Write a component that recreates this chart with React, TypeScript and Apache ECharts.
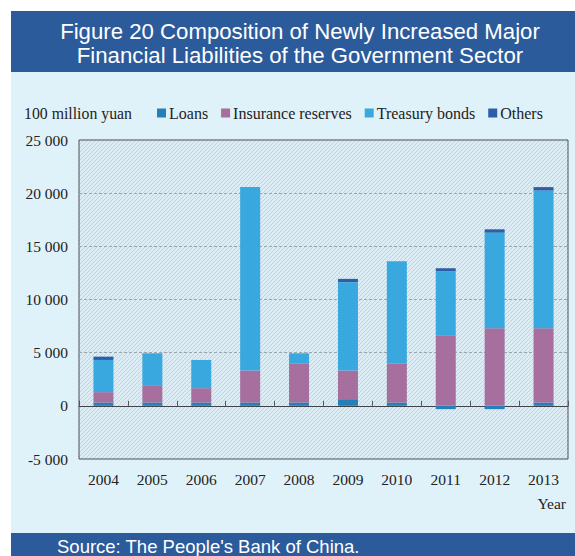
import React, { useEffect, useRef } from "react";
import * as echarts from "echarts";

const years = ["2004", "2005", "2006", "2007", "2008", "2009", "2010", "2011", "2012", "2013"];
const loans = [310, 310, 310, 310, 310, 625, 310, -310, -310, 310];
const insurance = [975, 1630, 1350, 3005, 3690, 2690, 3690, 6630, 7285, 6975];
const treasury = [3030, 3000, 2655, 17255, 940, 8315, 9600, 6030, 9005, 12965];
const others = [310, 0, 0, 0, 0, 310, 0, 280, 310, 320];
const seriesNames = ["Loans", "Insurance reserves", "Treasury bonds", "Others"];
const colors = ["#2580b8", "#a66f9e", "#38a8de", "#2d5ea9"];

const SERIF = "'Liberation Serif', 'Times New Roman', serif";
const SANS = "'Liberation Sans', Arial, sans-serif";

const fmt = (v: number) => {
  const s = String(Math.abs(v)).replace(/\B(?=(\d{3})+(?!\d))/g, " ");
  return v < 0 ? "-" + s : s;
};

const hatchSvg =
  "data:image/svg+xml;charset=utf-8," +
  encodeURIComponent(
    "<svg xmlns='http://www.w3.org/2000/svg' width='4' height='4'>" +
      "<rect width='4' height='4' fill='#dcedf5'/>" +
      "<path d='M-1,1 L1,-1 M0,4 L4,0 M3,5 L5,3' stroke='#b8cdd7' stroke-width='0.8'/>" +
      "</svg>"
  );

export default function App() {
  const ref = useRef<HTMLDivElement>(null);
  useEffect(() => {
    if (!ref.current) return;
    const chart = echarts.init(ref.current, null, { renderer: "svg" });
    const data = [loans, insurance, treasury, others];
    chart.setOption({
      animation: false,
      backgroundColor: "#ffffff",
      graphic: [
        { type: "rect", z: -10, shape: { x: 11, y: 11, width: 564, height: 61 }, style: { fill: "#2c5b9c" } },
        { type: "rect", z: -10, shape: { x: 11, y: 72, width: 564, height: 461 }, style: { fill: "#e0f2f9" } },
        { type: "rect", z: -10, shape: { x: 11, y: 533, width: 564, height: 23 }, style: { fill: "#2c5b9c" } },
        {
          type: "text", x: 300, y: 31,
          style: { text: "Figure 20 Composition of Newly Increased Major", fill: "#ffffff", font: `22.2px ${SANS}`, textAlign: "center", textVerticalAlign: "middle" },
        },
        {
          type: "text", x: 300, y: 55,
          style: { text: "Financial Liabilities of the Government Sector", fill: "#ffffff", font: `22.2px ${SANS}`, textAlign: "center", textVerticalAlign: "middle" },
        },
        {
          type: "text", x: 57, y: 546,
          style: { text: "Source: The People's Bank of China.", fill: "#ffffff", font: `18.5px ${SANS}`, textAlign: "left", textVerticalAlign: "middle" },
        },
        {
          type: "text", x: 24, y: 113,
          style: { text: "100 million yuan", fill: "#222222", font: `15.8px ${SERIF}`, textAlign: "left", textVerticalAlign: "middle" },
        },
        {
          type: "text", x: 566, y: 503,
          style: { text: "Year", fill: "#222222", font: `15.5px ${SERIF}`, textAlign: "right", textVerticalAlign: "middle" },
        },
      ],
      legend: {
        left: 152,
        top: 100,
        itemWidth: 9,
        itemHeight: 9,
        itemGap: 13,
        icon: "rect",
        textStyle: { fontFamily: SERIF, fontSize: 16, color: "#222222", padding: [0, 0, 0, -2] },
        data: seriesNames,
      },
      grid: {
        left: 79,
        top: 140,
        width: 489,
        height: 319,
        show: true,
        borderColor: "#4a4f55",
        borderWidth: 1,
        backgroundColor: { image: hatchSvg, repeat: "repeat", imageWidth: 4, imageHeight: 4 },
        containLabel: false,
      },
      xAxis: [
        {
          type: "category",
          data: years,
          axisLine: { onZero: true, lineStyle: { color: "#3f444a", width: 1 } },
          axisTick: { show: true, inside: true, length: 5, alignWithLabel: false, lineStyle: { color: "#555" } },
          axisLabel: { show: false },
          splitLine: { show: false },
        },
        {
          type: "category",
          data: years,
          position: "bottom",
          axisLine: { show: false, onZero: false },
          axisTick: { show: false },
          axisLabel: { show: true, margin: 12, fontFamily: SERIF, fontSize: 15.5, color: "#222222" },
          splitLine: { show: false },
        },
      ],
      yAxis: {
        type: "value",
        min: -5000,
        max: 25000,
        interval: 5000,
        axisLine: { show: false },
        axisTick: { show: false },
        axisLabel: { margin: 11, fontFamily: SERIF, fontSize: 15.5, color: "#222222", formatter: fmt },
        splitLine: { show: true, showMinLine: false, showMaxLine: false, lineStyle: { color: "#9aa6ad", type: [3, 2], width: 1.2 } },
      },
      series: seriesNames.map((name, i) => ({
        name,
        type: "bar",
        stack: "total",
        xAxisIndex: 0,
        barWidth: 20,
        itemStyle: { color: colors[i] },
        data: data[i],
      })),
    });
    return () => chart.dispose();
  }, []);
  return <div ref={ref} style={{ position: "absolute", left: 0, top: 0, width: 575, height: 556 }} />;
}
